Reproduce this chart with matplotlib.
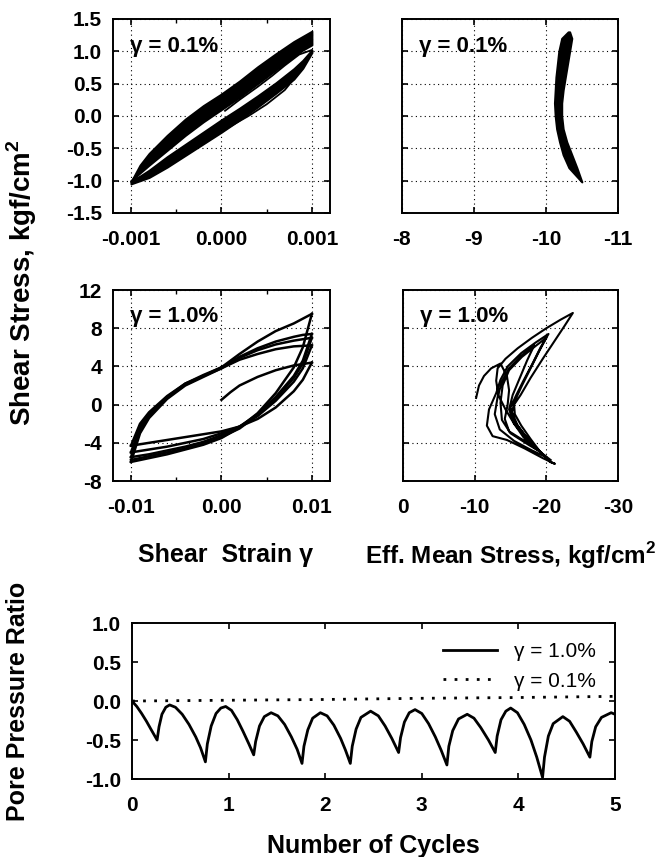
# cyclic simple shear results: stress-strain, stress path, pore pressure
import matplotlib
matplotlib.use('Agg')
import matplotlib.pyplot as plt

plt.rcParams['font.family'] = ['Liberation Sans', 'DejaVu Sans']
plt.rcParams['mathtext.fontset'] = 'custom'
plt.rcParams['mathtext.rm'] = 'Liberation Sans'
plt.rcParams['mathtext.bf'] = 'Liberation Sans:bold'
plt.rcParams['axes.unicode_minus'] = False

# --- top left: gamma = 0.1 %, stress-strain band
tl_strain = [-0.001, -0.0009, -0.0008, -0.0006, -0.0004, -0.0002, 0.0,
             0.0002, 0.0004, 0.0006, 0.0008, 0.0009, 0.001]
tl_up_outer = [-1.02, -0.76, -0.58, -0.30, -0.05, 0.16, 0.34,
               0.54, 0.76, 0.96, 1.15, 1.23, 1.31]
tl_up_inner = [-1.00, -0.88, -0.76, -0.53, -0.30, -0.09, 0.10,
               0.29, 0.50, 0.71, 0.92, 1.02, 1.10]
tl_lo_inner = [-1.00, -0.93, -0.84, -0.63, -0.44, -0.25, -0.06,
               0.12, 0.31, 0.51, 0.73, 0.86, 1.02]
tl_lo_outer = [-1.05, -1.00, -0.95, -0.79, -0.61, -0.43, -0.25,
               -0.06, 0.14, 0.35, 0.57, 0.74, 0.98]
tl_first_strain = [0.00004, 0.0002, 0.0004, 0.00056, 0.0007, 0.00086, 0.001]
tl_first_stress = [0.08, 0.25, 0.45, 0.62, 0.78, 0.95, 1.02]
tl_extra_strain = [0.0001, 0.0003, 0.0005, 0.0007, 0.0009, 0.001]
tl_extra_stress = [-0.16, 0.00, 0.18, 0.40, 0.74, 1.00]

# --- top right: gamma = 0.1 %, stress path band
tr_stress = [-1.02, -0.8, -0.6, -0.4, -0.2, 0.0, 0.2, 0.4, 0.6, 0.8, 1.0,
             1.2, 1.3]
tr_p_left = [-10.50, -10.32, -10.24, -10.19, -10.15, -10.13, -10.12,
             -10.13, -10.14, -10.16, -10.18, -10.22, -10.31]
tr_p_right = [-10.50, -10.43, -10.36, -10.29, -10.24, -10.22, -10.22,
              -10.24, -10.27, -10.30, -10.33, -10.36, -10.33]

# --- middle left: gamma = 1.0 %, stress-strain loops
ml_strain_up = [-0.010, -0.009, -0.008, -0.006, -0.004, -0.002, 0.0,
                0.002, 0.004, 0.006, 0.008, 0.009, 0.010]
ml_strain_dn = ml_strain_up[::-1]
ml_first_strain = [0.0, 0.001, 0.002, 0.004, 0.006, 0.008, 0.010]
ml_first_stress = [0.5, 1.3, 2.0, 2.9, 3.6, 4.1, 4.4]
ml_unload_1 = [4.4, 2.6, 1.4, -0.3, -1.5, -2.3, -2.8, -3.1, -3.4, -3.7, -4.0, -4.15, -4.3]
ml_load_2 = [-4.3, -2.0, -0.8, 0.9, 2.2, 3.0, 3.9, 5.3, 6.6, 7.7, 8.5, 9.0, 9.5]
ml_unload_2 = [9.5, 6.0, 3.9, 1.2, -0.9, -2.4, -3.5, -4.2, -4.7, -5.2, -5.6, -5.8, -6.0]
ml_load_3 = [-6.0, -3.0, -1.4, 0.6, 2.0, 2.9, 3.8, 5.0, 5.9, 6.6, 7.1, 7.3, 7.4]
ml_unload_3 = [7.4, 4.6, 3.0, 0.8, -1.0, -2.3, -3.2, -3.9, -4.4, -4.8, -5.2, -5.35, -5.5]
ml_load_4 = [-5.5, -2.6, -1.2, 0.7, 2.1, 3.0, 3.8, 4.7, 5.3, 5.8, 6.1, 6.15, 6.2]
ml_unload_4 = [6.2, 3.8, 2.4, 0.4, -1.2, -2.3, -3.0, -3.6, -4.0, -4.4, -4.7, -4.85, -5.0]
ml_load_5 = [-5.0, -2.3, -1.0, 0.8, 2.2, 3.1, 3.9, 4.9, 5.7, 6.3, 6.7, 6.85, 7.0]
ml_unload_5 = [7.0, 4.3, 2.8, 0.6, -1.1, -2.5, -3.4, -4.1, -4.6, -5.0, -5.4, -5.6, -5.8]

# --- middle right: gamma = 1.0 %, effective stress path
mr_p = [-10.2, -10.6, -11.3, -12.3, -13.6,
        -14.5, -14.8, -14.6, -14.2, -14.8, -16.5, -18.3,
        -17.0, -15.5, -14.3, -13.3, -13.0, -13.2, -14.3, -16.0, -18.0, -20.0, -22.0, -23.7,
        -22.5, -21.0, -19.5, -17.8, -16.4, -15.5, -15.6, -16.5, -17.8, -19.0, -20.5, -21.2,
        -19.5, -17.0, -14.5, -12.5, -11.7, -12.0, -13.0, -13.6, -14.6, -16.5, -18.5, -20.3,
        -19.2, -18.0, -16.8, -15.8, -15.0, -15.6, -17.0, -18.5, -20.0,
        -18.0, -15.5, -13.5, -12.8, -13.2, -13.8, -14.8, -16.5, -18.3,
        -17.3, -16.3, -15.3, -14.8, -15.5, -16.8, -18.3, -19.3,
        -17.5, -15.0, -13.8, -13.6, -13.9, -14.8, -16.6, -18.6, -20.0,
        -19.0, -17.8, -16.6, -15.6, -15.2, -16.0, -17.5, -19.2, -20.6]
mr_s = [0.7, 2.0, 3.0, 3.8, 4.3,
        3.0, 1.5, 0.0, -1.5, -2.8, -3.6, -4.3,
        -3.3, -2.0, -0.5, 1.0, 2.5, 3.8, 4.8, 5.9, 7.0, 8.0, 8.9, 9.6,
        8.2, 6.5, 4.8, 2.8, 1.0, 0.0, -1.0, -2.2, -3.6, -4.8, -6.0, -6.2,
        -5.6, -4.6, -3.7, -3.3, -2.2, -0.5, 1.2, 2.6, 4.0, 5.4, 6.5, 7.4,
        6.0, 4.2, 2.5, 1.0, -0.3, -1.8, -3.2, -4.5, -5.5,
        -4.8, -3.8, -2.6, -1.0, 0.8, 2.4, 3.8, 5.1, 6.2,
        4.6, 2.8, 1.0, -0.5, -2.0, -3.4, -4.5, -5.0,
        -4.2, -3.0, -1.6, 0.2, 2.0, 3.6, 5.0, 6.2, 7.0,
        5.6, 3.8, 2.0, 0.4, -0.8, -2.2, -3.7, -5.0, -5.8]

# --- bottom: pore pressure ratio against number of cycles
cycles_10 = [0.00, 0.05, 0.10, 0.15, 0.20, 0.26,
             0.28, 0.31, 0.35, 0.39, 0.45, 0.52, 0.59, 0.66, 0.71, 0.76,
             0.78, 0.82, 0.87, 0.92, 0.97, 1.03, 1.09, 1.15, 1.21, 1.26,
             1.28, 1.32, 1.37, 1.44, 1.51, 1.58, 1.65, 1.71, 1.76,
             1.78, 1.82, 1.87, 1.95, 2.02, 2.09, 2.16, 2.21, 2.26,
             2.28, 2.32, 2.37, 2.47, 2.55, 2.62, 2.69, 2.76,
             2.78, 2.82, 2.87, 2.93, 3.00, 3.07, 3.14, 3.20, 3.26,
             3.28, 3.32, 3.38, 3.47, 3.54, 3.61, 3.69, 3.76,
             3.78, 3.82, 3.87, 3.92, 3.99, 4.06, 4.13, 4.19, 4.25,
             4.27, 4.31, 4.36, 4.46, 4.53, 4.60, 4.67, 4.74,
             4.76, 4.80, 4.86, 4.96, 5.00]
ratio_10 = [0.00, -0.07, -0.16, -0.26, -0.37, -0.50,
            -0.33, -0.17, -0.08, -0.05, -0.08, -0.17, -0.30, -0.46, -0.60, -0.78,
            -0.55, -0.32, -0.16, -0.09, -0.07, -0.12, -0.24, -0.39, -0.55, -0.69,
            -0.52, -0.32, -0.20, -0.15, -0.19, -0.30, -0.46, -0.62, -0.80,
            -0.58, -0.37, -0.22, -0.15, -0.19, -0.31, -0.48, -0.63, -0.80,
            -0.58, -0.36, -0.21, -0.13, -0.19, -0.32, -0.48, -0.66,
            -0.47, -0.27, -0.15, -0.11, -0.16, -0.29, -0.46, -0.63, -0.82,
            -0.58, -0.38, -0.23, -0.17, -0.22, -0.34, -0.50, -0.66,
            -0.45, -0.24, -0.13, -0.09, -0.15, -0.30, -0.50, -0.72, -0.98,
            -0.72, -0.45, -0.29, -0.20, -0.26, -0.40, -0.55, -0.72,
            -0.52, -0.33, -0.21, -0.15, -0.17]
cycles_01 = [0, 1, 2, 3, 4, 5]
ratio_01 = [0.0, 0.01, 0.02, 0.035, 0.045, 0.06]

LW = 1.8
TICK = 15


def style_axes(ax, grid=True):
    ax.tick_params(direction='in', top=True, right=True, length=4, width=1.2,
                   labelsize=TICK)
    ax.tick_params(axis='x', pad=12)
    ax.tick_params(axis='y', pad=8)
    ax.tick_params(which='minor', direction='in', top=True, right=True,
                   length=3, width=1.0)
    for lab in ax.get_xticklabels() + ax.get_yticklabels():
        lab.set_fontweight('bold')
    for s in ax.spines.values():
        s.set_linewidth(1.4)
    if grid:
        ax.grid(True, linestyle=(0, (1, 3)), color='k', linewidth=0.8)


def tag(ax, text):
    ax.text(0.08, 0.86, text, transform=ax.transAxes, fontsize=16,
            fontweight='bold', ha='left', va='center')


fig = plt.figure(figsize=(6.72, 8.57), dpi=100)

# top left
ax = fig.add_axes([0.168, 0.7515, 0.323, 0.2264])
ax.fill_between(tl_strain, tl_up_inner, tl_up_outer, color='k', lw=1.5)
ax.fill_between(tl_strain, tl_lo_outer, tl_lo_inner, color='k', lw=1.5)
ax.plot(tl_first_strain, tl_first_stress, 'k', lw=1.3)
ax.plot(tl_extra_strain, tl_extra_stress, 'k', lw=1.3)
ax.set_xlim(-0.0012, 0.0012)
ax.set_ylim(-1.5, 1.5)
ax.set_xticks([-0.001, 0.0, 0.001])
ax.set_xticklabels(['-0.001', '0.000', '0.001'])
ax.set_xticks([-0.0005, 0.0005], minor=True)
ax.set_yticks([-1.5, -1.0, -0.5, 0.0, 0.5, 1.0, 1.5])
ax.set_yticklabels(['-1.5', '-1.0', '-0.5', '0.0', '0.5', '1.0', '1.5'])
style_axes(ax)
tag(ax, 'γ = 0.1%')

# top right
ax = fig.add_axes([0.598, 0.7515, 0.3214, 0.2264])
ax.fill_betweenx(tr_stress, tr_p_left, tr_p_right, color='k', lw=1.5)
ax.set_xlim(-8, -11)
ax.set_ylim(-1.5, 1.5)
ax.set_xticks([-8, -9, -10, -11])
ax.set_yticks([-1.5, -1.0, -0.5, 0.0, 0.5, 1.0, 1.5])
ax.set_yticklabels([])
style_axes(ax)
tag(ax, 'γ = 0.1%')

# middle left
ax = fig.add_axes([0.168, 0.4387, 0.323, 0.2229])
ax.plot(ml_first_strain, ml_first_stress, 'k', lw=LW)
for branch in [ml_unload_1, ml_unload_2, ml_unload_3, ml_unload_4, ml_unload_5]:
    ax.plot(ml_strain_dn, branch, 'k', lw=LW, solid_joinstyle='round')
for branch in [ml_load_2, ml_load_3, ml_load_4, ml_load_5]:
    ax.plot(ml_strain_up, branch, 'k', lw=LW, solid_joinstyle='round')
ax.set_xlim(-0.012, 0.012)
ax.set_ylim(-8, 12)
ax.set_xticks([-0.01, 0.0, 0.01])
ax.set_xticklabels(['-0.01', '0.00', '0.01'])
ax.set_xticks([-0.005, 0.005], minor=True)
ax.set_yticks([-8, -4, 0, 4, 8, 12])
style_axes(ax)
tag(ax, 'γ = 1.0%')

# middle right
ax = fig.add_axes([0.5997, 0.4387, 0.32, 0.2229])
ax.plot(mr_p, mr_s, 'k', lw=1.5, solid_joinstyle='round')
ax.set_xlim(0, -30)
ax.set_ylim(-8, 12)
ax.set_xticks([0, -10, -20, -30])
ax.set_yticks([-8, -4, 0, 4, 8, 12])
ax.set_yticklabels([])
style_axes(ax)
tag(ax, 'γ = 1.0%')

fig.text(0.033, 0.67, r'Shear Stress, kgf/cm$^{\mathbf{2}}$', rotation=90,
         ha='center', va='center', fontsize=20, fontweight='bold')
fig.text(0.335, 0.352, 'Shear  Strain γ', ha='center', va='center',
         fontsize=18, fontweight='bold')
fig.text(0.76, 0.352, r'Eff. Mean Stress, kgf/cm$^{\mathbf{2}}$', ha='center',
         va='center', fontsize=17.5, fontweight='bold')

# bottom
ax = fig.add_axes([0.1964, 0.091, 0.7188, 0.182])
ax.plot(cycles_10, ratio_10, 'k', lw=2.0, label='γ = 1.0%')
ax.plot(cycles_01, ratio_01, 'k', lw=2.0, linestyle=(0, (1, 3)),
        label='γ = 0.1%')
ax.set_xlim(0, 5)
ax.set_ylim(-1.0, 1.0)
ax.set_xticks([0, 1, 2, 3, 4, 5])
ax.set_yticks([-1.0, -0.5, 0.0, 0.5, 1.0])
ax.set_yticklabels(['-1.0', '-0.5', '0.0', '0.5', '1.0'])
style_axes(ax, grid=False)
ax.set_xlabel('Number of Cycles', fontsize=18, fontweight='bold')
ax.set_ylabel('Pore Pressure Ratio', fontsize=18, fontweight='bold')
ax.xaxis.set_label_coords(0.5, -0.35)
ax.yaxis.set_label_coords(-0.211, 0.5)
ax.legend(loc='upper right', frameon=False, fontsize=15, handlelength=2.6,
          borderaxespad=0.3, labelspacing=0.5, bbox_to_anchor=(0.99, 0.97))

fig.savefig('out.png', dpi=100)
